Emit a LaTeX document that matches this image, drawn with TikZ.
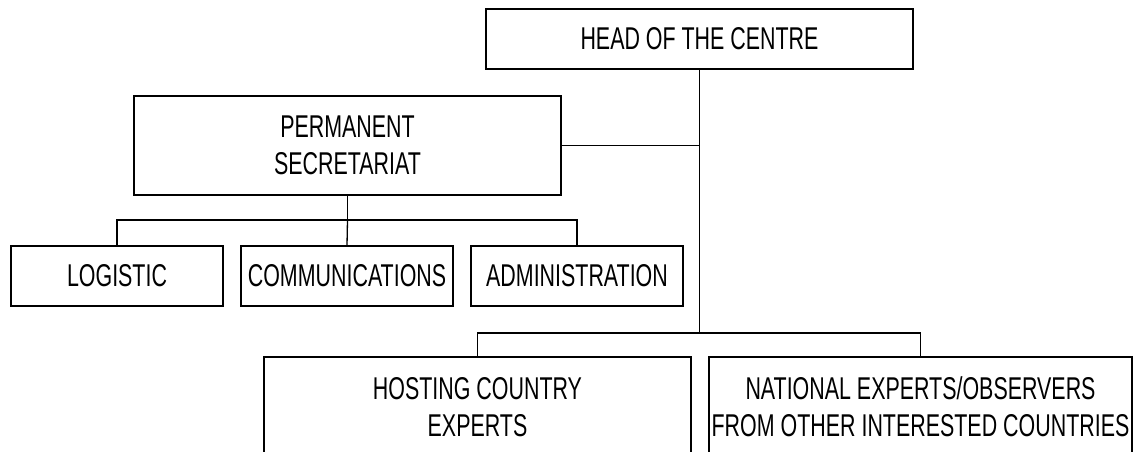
\documentclass[tikz,border=0pt]{standalone}
\usepackage{fontspec}
\setmainfont{Liberation Sans}[FakeStretch=0.68]
\begin{document}
\begin{tikzpicture}[x=1pt,y=-1pt,
  box/.style={draw=black,line width=1.3pt,inner sep=0pt,align=center,
    font=\fontsize{31.5}{37}\selectfont},
  link/.style={draw=black,line width=1.3pt}]
\useasboundingbox (0,0) rectangle (1140,452);
\clip (0,0) rectangle (1140,452);
\node[box,minimum width=427pt,minimum height=60pt] (head) at (699.5,39) {HEAD OF THE CENTRE};
\node[box,minimum width=427pt,minimum height=99pt] (perm) at (347.5,145.5) {PERMANENT\\SECRETARIAT};
\node[box,minimum width=212pt,minimum height=60pt] (log) at (117,276) {LOGISTIC};
\node[box,minimum width=212pt,minimum height=60pt] (com) at (347,276) {COMMUNICATIONS};
\node[box,minimum width=212pt,minimum height=60pt] (adm) at (577,276) {ADMINISTRATION};
\node[box,minimum width=427pt,minimum height=100pt] (host) at (477.5,407) {HOSTING COUNTRY\\EXPERTS};
\node[box,minimum width=423pt,minimum height=100pt] (nat) at (920.5,407) {NATIONAL EXPERTS/OBSERVERS\\FROM OTHER INTERESTED COUNTRIES};
\coordinate (busA) at (347.5,220);
\coordinate (busB) at (699.5,333);
\draw[link] (head.south) -- (busB);
\draw[link] (host.north) |- (busB) -| (nat.north);
\draw[link] (perm.east) -- (perm.east -| head.south);
\draw[link] (perm.south) -- (busA);
\draw[link] (log.north) |- (busA) -| (adm.north);
\draw[link] (busA) -- (com.north);
\end{tikzpicture}
\end{document}
